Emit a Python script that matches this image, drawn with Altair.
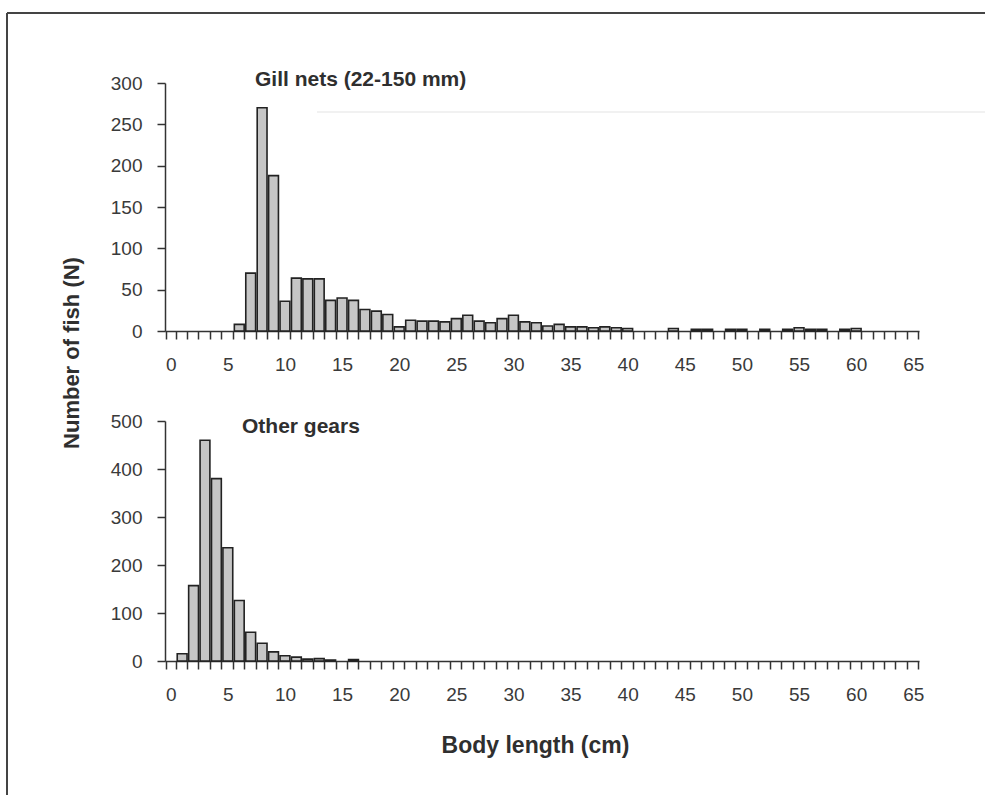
import altair as alt
import pandas as pd

# Body-length classes (cm)
lengths = list(range(66))

# Catch per length class, gill nets (22-150 mm mesh)
gill_counts = [0, 0, 0, 0, 0, 0, 8, 70, 270, 188,
               36, 64, 63, 63, 37, 40, 37, 26, 24, 20,
               5, 13, 12, 12, 11, 15, 19, 12, 10, 15,
               19, 11, 10, 6, 8, 5, 5, 4, 5, 4,
               3, 0, 0, 0, 3, 0, 2, 2, 0, 2,
               2, 0, 2, 0, 2, 4, 2, 2, 0, 2,
               3, 0, 0, 0, 0, 0]

# Catch per length class, all other gears
other_counts = [0, 15, 157, 460, 380, 236, 126, 60, 37, 19,
                11, 8, 4, 5, 2, 0, 3, 0, 0, 0,
                0, 0, 0, 0, 0, 0, 0, 0, 0, 0,
                0, 0, 0, 0, 0, 0, 0, 0, 0, 0,
                0, 0, 0, 0, 0, 0, 0, 0, 0, 0,
                0, 0, 0, 0, 0, 0, 0, 0, 0, 0,
                0, 0, 0, 0, 0, 0]

panel_titles = ["Gill nets (22-150 mm)", "Other gears"]
y_title = "Number of fish (N)"
x_title = "Body length (cm)"

FONT = "Liberation Sans"
INK = "#2f2f2f"
PLOT_W = 754


def x_enc(title=None):
    return alt.X(
        "length:O",
        scale=alt.Scale(domain=lengths, paddingInner=0.14, paddingOuter=0.07),
        axis=alt.Axis(
            title=title,
            labelExpr="datum.value % 5 == 0 ? datum.label : ''",
            labelAngle=0,
            labelOverlap=False,
            tickBand="extent",
            tickSize=8,
            labelPadding=16,
            titleFont=FONT,
            titleFontSize=23,
            titleFontWeight="bold",
            titleColor=INK,
            titlePadding=30,
            titleX=370,
            titleAlign="center",
        ),
    )


def bars(counts, ymax, ystep, title_text, tx, ty, with_x_title):
    df = pd.DataFrame({"length": lengths, "count": counts})
    base = alt.Chart(df).transform_filter("datum.count > 0").mark_bar(
        fill="#c6c6c6", stroke="#222222", strokeWidth=1.6
    ).encode(
        x=x_enc(x_title if with_x_title else None),
        y=alt.Y(
            "count:Q",
            scale=alt.Scale(domain=[0, ymax], nice=False),
            axis=alt.Axis(
                title=None,
                values=list(range(0, ymax + 1, ystep)),
                grid=False,
                tickSize=8,
                labelPadding=15,
            ),
        ),
    )
    label = alt.Chart(pd.DataFrame({"t": [title_text]})).mark_text(
        font=FONT, fontSize=21, fontWeight="bold", color=INK,
        align="left", baseline="alphabetic",
    ).encode(x=alt.value(tx), y=alt.value(ty), text="t:N")
    return base, label


top_bars, top_label = bars(gill_counts, 300, 50, panel_titles[0], 90, 3, False)
bot_bars, bot_label = bars(other_counts, 500, 100, panel_titles[1], 77, 12, True)

one = pd.DataFrame({"t": [y_title]})

# Page frame (left and top edges) and a faint rule across the upper panel
frame_top = alt.Chart(one).mark_rule(color="#444444", strokeWidth=2).encode(
    x=alt.value(-158), x2=alt.value(820), y=alt.value(-70)
)
frame_left = alt.Chart(one).mark_rule(color="#444444", strokeWidth=2).encode(
    x=alt.value(-158), y=alt.value(-70), y2=alt.value(712)
)
faint = alt.Chart(one).mark_rule(color="#ececec", strokeWidth=1.5).encode(
    x=alt.value(152), x2=alt.value(820), y=alt.value(29)
)
ytitle = alt.Chart(one).mark_text(
    font=FONT, fontSize=22, fontWeight="bold", color=INK,
    angle=270, align="center", baseline="middle",
).encode(x=alt.value(-93), y=alt.value(270), text="t:N")

top = alt.layer(faint, top_bars, top_label, ytitle, frame_top, frame_left).properties(
    width=PLOT_W, height=248
)
bottom = alt.layer(bot_bars, bot_label).properties(width=PLOT_W, height=240)

chart = alt.vconcat(top, bottom, spacing=90, bounds="flush").properties(
    padding={"left": 6, "top": 12, "right": 0, "bottom": 0}
).configure_view(stroke=None).configure_axis(
    domainColor="#333333",
    domainWidth=1.5,
    tickColor="#333333",
    tickWidth=1.5,
    labelFont=FONT,
    labelFontSize=19,
    labelColor="#3a3a3a",
)

chart.save("out.html", embed_options={"renderer": "svg", "actions": False})
